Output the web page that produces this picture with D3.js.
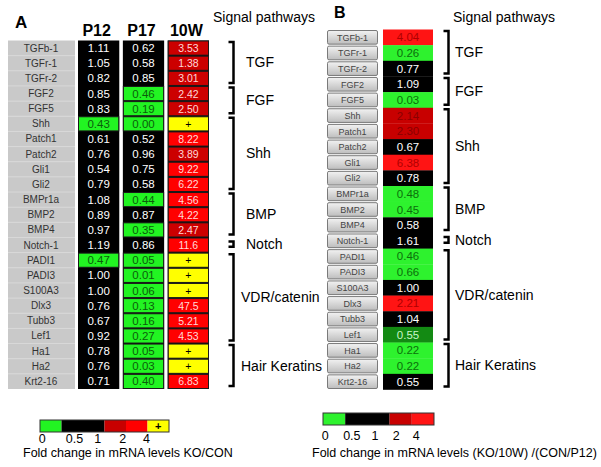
<!DOCTYPE html>
<html>
<head>
<meta charset="utf-8">
<script src="https://cdn.jsdelivr.net/npm/d3@7"></script>
<style>
  body { margin: 0; background: #fff; }
  svg { font-family: "Liberation Sans", Arial, sans-serif; }
</style>
</head>
<body>
<div id="chart"></div>
<script>
// Fold change heat tables, panel A (KO/CON) and panel B ((KO/10W)/(CON/P12))

// Data
// =======================================
var genes = ["TGFb-1", "TGFr-1", "TGFr-2", "FGF2", "FGF5", "Shh", "Patch1", "Patch2", "Gli1", "Gli2",
    "BMPr1a", "BMP2", "BMP4", "Notch-1", "PADI1", "PADI3", "S100A3", "Dlx3", "Tubb3", "Lef1",
    "Ha1", "Ha2", "Krt2-16"];

var timepoints = ["P12", "P17", "10W"];

// "+" = only detected in KO
var p12 = ["1.11", "1.05", "0.82", "0.85", "0.83", "0.43", "0.61", "0.76", "0.54", "0.79",
    "1.08", "0.89", "0.97", "1.19", "0.47", "1.00", "1.00", "0.76", "0.67", "0.92",
    "0.78", "0.76", "0.71"];
var p17 = ["0.62", "0.58", "0.85", "0.46", "0.19", "0.00", "0.52", "0.96", "0.75", "0.58",
    "0.44", "0.87", "0.35", "0.86", "0.05", "0.01", "0.06", "0.13", "0.16", "0.27",
    "0.05", "0.03", "0.40"];
var w10 = ["3.53", "1.38", "3.01", "2.42", "2.50", "+", "8.22", "3.89", "9.22", "6.22",
    "4.56", "4.22", "2.47", "11.6", "+", "+", "+", "47.5", "5.21", "4.53",
    "+", "+", "6.83"];

// panel B ratio and its colour class as shown in the figure
var ratioB = ["4.04", "0.26", "0.77", "1.09", "0.03", "2.14", "2.30", "0.67", "6.38", "0.78",
    "0.48", "0.45", "0.58", "1.61", "0.46", "0.66", "1.00", "2.21", "1.04", "0.55",
    "0.22", "0.22", "0.55"];
var levelB = ["up", "down", "none", "none", "down", "mid", "mid", "none", "up", "none",
    "down", "down", "none", "none", "down", "down", "none", "up", "none", "down2",
    "down", "down", "none"];

// Signal pathway groups: name, first row, last row
var groupNames = ["TGF", "FGF", "Shh", "BMP", "Notch", "VDR/catenin", "Hair Keratins"];
var groupStart = [0, 3, 5, 10, 13, 14, 20];
var groupEnd = [2, 4, 9, 12, 13, 19, 22];

var legendTicks = ["0", "0.5", "1", "2", "4"];

// Housekeeping
// =======================================
var width = 601;
var height = 467;

var svg = d3.select("#chart")
    .append("svg")
    .attr("width", width)
    .attr("height", height);

var colA = d3.scaleThreshold()
    .domain([0.5, 1.3, 4])
    .range(["#22f422", "#000000", "#cc0000", "#ff0000"]);
var textA = d3.scaleThreshold()
    .domain([0.5, 1.3, 4])
    .range(["#0b5e0b", "#ffffff", "#ffd8d8", "#ffd8d8"]);

var colB = d3.scaleOrdinal()
    .domain(["down", "down2", "none", "mid", "up"])
    .range(["#2ef22e", "#138a13", "#000000", "#c80000", "#ff1414"]);
var textB = d3.scaleOrdinal()
    .domain(["down", "down2", "none", "mid", "up"])
    .range(["#0b700b", "#c8f5c8", "#ffffff", "#8a0000", "#b00000"]);

function cellFill(v) { return v == "+" ? "#ffff00" : colA(+v); }
function cellText(v) { return v == "+" ? "#000" : textA(+v); }

// Panel A
// =======================================
var yA = d3.scaleBand().domain(genes).range([40.5, 389]);
var xA = d3.scaleBand().domain(timepoints).range([78, 209]).paddingInner(0.08);
var colsA = [p12, p17, w10];

svg.append("text").attr("x", 15).attr("y", 28)
    .attr("font-size", 17).attr("font-weight", "bold").text("A");

// gene name column
svg.append("g").selectAll("rect").data(genes).enter()
    .append("rect")
    .attr("x", 8).attr("width", 67)
    .attr("y", function(d) { return yA(d); })
    .attr("height", yA.bandwidth())
    .attr("fill", "#c9c9c9");
svg.append("g").selectAll("line").data(genes.slice(1)).enter()
    .append("line")
    .attr("x1", 8).attr("x2", 75)
    .attr("y1", function(d) { return yA(d); })
    .attr("y2", function(d) { return yA(d); })
    .attr("stroke", "#d8d8d8").attr("stroke-width", 1);
svg.append("g").selectAll("text").data(genes).enter()
    .append("text")
    .attr("x", 41)
    .attr("y", function(d) { return yA(d) + yA.bandwidth() / 2 + 3.5; })
    .attr("text-anchor", "middle")
    .attr("font-size", 10)
    .attr("fill", "#333")
    .text(function(d) { return d; });

// column headers
svg.append("g").selectAll("text").data(timepoints).enter()
    .append("text")
    .attr("x", function(d) { return xA(d) + xA.bandwidth() / 2 - 2; })
    .attr("y", 36)
    .attr("text-anchor", "middle")
    .attr("font-size", 16)
    .attr("font-weight", "bold")
    .text(function(d) { return d; });

timepoints.forEach(function(tp, j) {
    var g = svg.append("g");
    // black backing for the whole column
    g.append("rect")
        .attr("x", xA(tp)).attr("width", xA.bandwidth())
        .attr("y", yA.range()[0]).attr("height", yA.range()[1] - yA.range()[0])
        .attr("fill", "#000");
    var cells = g.selectAll("g").data(colsA[j]).enter().append("g");
    cells.append("rect")
        .attr("x", xA(tp) + 0.5)
        .attr("width", xA.bandwidth() - 1)
        .attr("y", function(d, i) { return yA(genes[i]) + 0.5; })
        .attr("height", yA.bandwidth() - 1)
        .attr("fill", function(d) { return cellFill(d); })
        .attr("stroke", function(d) { return cellFill(d) == "#000000" ? "none" : "#1a1a1a"; })
        .attr("stroke-width", 1);
    cells.append("text")
        .attr("x", xA(tp) + xA.bandwidth() / 2)
        .attr("y", function(d, i) { return yA(genes[i]) + yA.bandwidth() / 2 + 4; })
        .attr("text-anchor", "middle")
        .attr("font-size", function(d) { return tp == "10W" ? 10.5 : 11.5; })
        .attr("fill", function(d) { return cellText(d); })
        .text(function(d) { return d; });
});

svg.append("text").attr("x", 213).attr("y", 22)
    .attr("font-size", 14).text("Signal pathways");

function drawBrackets(yScale, bx, lx, lxLong, fs) {
    var g = svg.append("g");
    groupNames.forEach(function(name, k) {
        var y0 = yScale(genes[groupStart[k]]) + 1.5;
        var y1 = yScale(genes[groupEnd[k]]) + yScale.bandwidth() - 3;
        if (groupStart[k] == groupEnd[k]) {
            y0 += 2.5;
            y1 -= 3;
        }
        g.append("path")
            .attr("d", "M" + bx + "," + y0 + "H" + (bx + 5) + "V" + y1 + "H" + bx)
            .attr("fill", "none")
            .attr("stroke", "#000")
            .attr("stroke-width", 2.5);
        g.append("text")
            .attr("x", name.length > 6 ? lxLong : lx)
            .attr("y", (y0 + y1) / 2 + 5)
            .attr("font-size", fs)
            .text(name);
    });
}
drawBrackets(yA, 228.5, 246, 241, 14);

// Panel B
// =======================================
var yB = d3.scaleBand().domain(genes).range([29.5, 389.5]);

svg.append("text").attr("x", 334).attr("y", 18)
    .attr("font-size", 16).attr("font-weight", "bold").text("B");

var defs = svg.append("defs");
var grad = defs.append("linearGradient")
    .attr("id", "btn").attr("x1", 0).attr("x2", 0).attr("y1", 0).attr("y2", 1);
grad.append("stop").attr("offset", "0%").attr("stop-color", "#f2f2f2");
grad.append("stop").attr("offset", "100%").attr("stop-color", "#bdbdbd");

svg.append("g").selectAll("rect").data(genes).enter()
    .append("rect")
    .attr("x", 327.5).attr("width", 50)
    .attr("y", function(d) { return yB(d) + 1; })
    .attr("height", yB.bandwidth() - 2)
    .attr("rx", 1.5)
    .attr("fill", "url(#btn)")
    .attr("stroke", "#7a7a7a")
    .attr("stroke-width", 1);
svg.append("g").selectAll("text").data(genes).enter()
    .append("text")
    .attr("x", 352.5)
    .attr("y", function(d) { return yB(d) + yB.bandwidth() / 2 + 3.3; })
    .attr("text-anchor", "middle")
    .attr("font-size", 9)
    .attr("fill", "#444")
    .text(function(d) { return d; });

var cellsB = svg.append("g").selectAll("g").data(ratioB).enter().append("g");
cellsB.append("rect")
    .attr("x", 383).attr("width", 50)
    .attr("y", function(d, i) { return yB(genes[i]); })
    .attr("height", yB.bandwidth() + 0.3)
    .attr("fill", function(d, i) { return colB(levelB[i]); });
cellsB.append("text")
    .attr("x", 408)
    .attr("y", function(d, i) { return yB(genes[i]) + yB.bandwidth() / 2 + 4; })
    .attr("text-anchor", "middle")
    .attr("font-size", 11.5)
    .attr("fill", function(d, i) { return textB(levelB[i]); })
    .text(function(d) { return d; });

svg.append("text").attr("x", 453).attr("y", 22)
    .attr("font-size", 14).text("Signal pathways");

drawBrackets(yB, 443.5, 455, 455, 14);

// Legends
// =======================================
function drawLegend(x0, y0, unit, segs, tickAt, tickY, title, titleX, titleY) {
    var g = svg.append("g");
    var lx = d3.scaleLinear().domain([0, 1]).range([x0, x0 + unit]);
    segs.forEach(function(s) {
        g.append("rect")
            .attr("x", lx(s[0])).attr("width", lx(s[1]) - lx(s[0]))
            .attr("y", y0).attr("height", 12)
            .attr("fill", s[2]);
        if (s[2] == "#ffff00") {
            g.append("text")
                .attr("x", (lx(s[0]) + lx(s[1])) / 2).attr("y", y0 + 10)
                .attr("text-anchor", "middle").attr("font-size", 11)
                .attr("font-weight", "bold")
                .text("+");
        }
    });
    g.append("rect")
        .attr("x", lx(0)).attr("width", lx(segs[segs.length - 1][1]) - lx(0))
        .attr("y", y0).attr("height", 12)
        .attr("fill", "none").attr("stroke", "#333").attr("stroke-width", 1);
    g.selectAll(".tick").data(legendTicks).enter()
        .append("text")
        .attr("x", function(d, i) { return lx(tickAt[i]); })
        .attr("y", tickY)
        .attr("text-anchor", "middle")
        .attr("font-size", 12.5)
        .text(function(d) { return d; });
    g.append("text").attr("x", titleX).attr("y", titleY)
        .attr("font-size", 12.5).text(title);
}

drawLegend(40, 420, 21.5,
    [[0, 1, "#22f422"], [1, 3, "#000000"], [3, 4, "#c80000"], [4, 5, "#ff0000"], [5, 6, "#ffff00"]],
    [0.1, 1.6, 2.68, 3.85, 4.95], 443,
    "Fold change in mRNA levels KO/CON", 23, 457);

drawLegend(323, 413, 22.2,
    [[0, 1, "#2ef22e"], [1, 3, "#000000"], [3, 4, "#c80000"], [4, 5, "#ff1414"]],
    [0.1, 1.3, 2.34, 3.3, 4.2], 440,
    "Fold change in mRNA levels (KO/10W) /(CON/P12)", 312, 457);
</script>
</body>
</html>
